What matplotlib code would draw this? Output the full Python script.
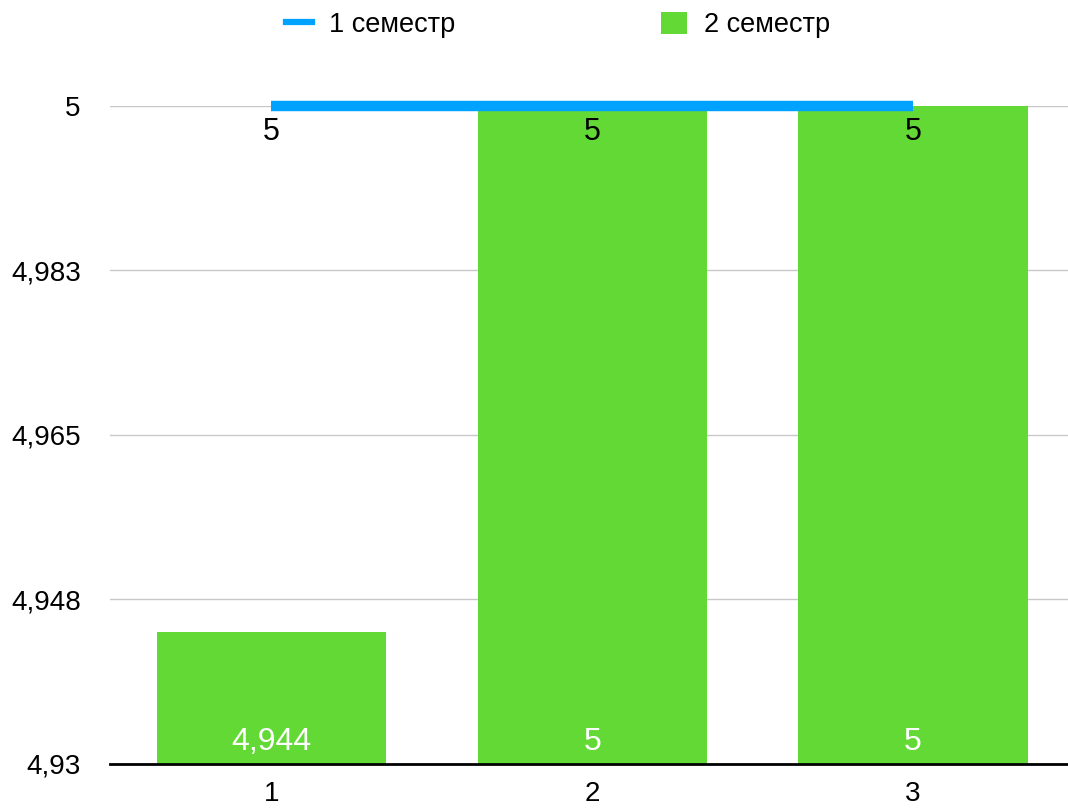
import matplotlib.pyplot as plt
from matplotlib.lines import Line2D
from matplotlib.patches import Patch

plt.rcParams['font.family'] = ['Liberation Sans', 'DejaVu Sans']

categories = ['1', '2', '3']
sem1 = [5, 5, 5]
sem2 = [4.944, 5, 5]
sem1_labels = ['5', '5', '5']
sem2_labels = ['4,944', '5', '5']
yticks = [4.93, 4.9475, 4.965, 4.9825, 5.0]
ytick_labels = ['4,93', '4,948', '4,965', '4,983', '5']

blue = '#00a2ff'
green = '#63d936'

W, H = 1068, 808
fig = plt.figure(figsize=(W / 100, H / 100), dpi=100)
ax = fig.add_axes([110 / W, 1 - 764 / H, (1068 - 110) / W, (764 - 106) / H])

x = list(range(1, len(categories) + 1))
ax.bar(x, sem2, width=0.715, color=green, zorder=2)
ax.plot(x, sem1, color=blue, lw=7.5, solid_capstyle='butt', zorder=3, clip_on=False)

for xi, lab in zip(x, sem1_labels):
    ax.annotate(lab, (xi, 5.0), xytext=(0, -19), textcoords='offset points',
                ha='center', va='center', fontsize=22, color='black', zorder=4)
for xi, lab in zip(x, sem2_labels):
    ax.annotate(lab, (xi, 4.93), xytext=(0, 15.5), textcoords='offset points',
                ha='center', va='center', fontsize=23, color='white', zorder=4)

ax.set_xlim(0.497, 3.483)
ax.set_ylim(4.93, 5.0)
ax.set_yticks(yticks)
ax.set_yticklabels(ytick_labels)
ax.set_xticks(x)
ax.set_xticklabels(categories)
ax.tick_params(axis='y', length=0, pad=21, labelsize=20)
ax.tick_params(axis='x', length=0, pad=12, labelsize=20)
ax.yaxis.grid(True, color='#c8c8c8', lw=1)
ax.set_axisbelow(True)
for s in ['top', 'right', 'left']:
    ax.spines[s].set_visible(False)
ax.spines['bottom'].set_linewidth(2)
ax.spines['bottom'].set_zorder(5)

handles = [Line2D([0], [0], color=blue, lw=4.5),
           Patch(facecolor=green)]
fig.legend(handles, ['1 семестр', '2 семестр'], loc='center',
           bbox_to_anchor=(558 / W, 1 - 25 / H), ncol=2, frameon=False,
           fontsize=19.5, handlelength=0.95, handleheight=0.85,
           handletextpad=0.62, columnspacing=7.6, borderpad=0)

plt.savefig('out.png', dpi=100)
